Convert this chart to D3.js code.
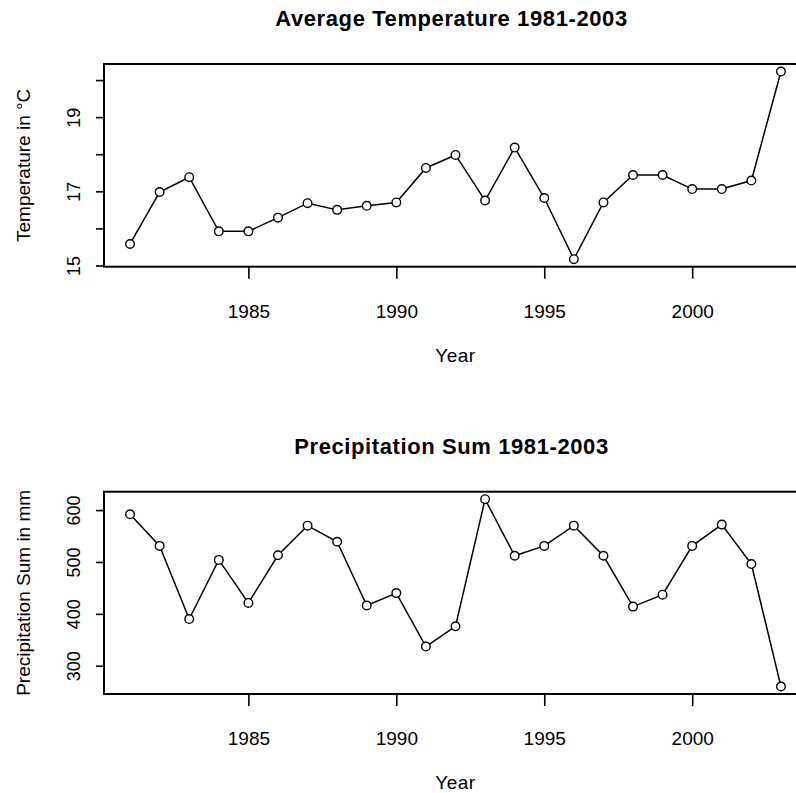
<!DOCTYPE html>
<html>
<head>
<meta charset="utf-8">
<script src="https://cdn.jsdelivr.net/npm/d3@7"></script>
<style>
body { margin: 0; background: #fff; }
text { font-family: "Liberation Sans", Arial, sans-serif; fill: #000; }
</style>
</head>
<body>
<svg width="796" height="793"></svg>
<script>
var years = [1981, 1982, 1983, 1984, 1985, 1986, 1987, 1988, 1989, 1990, 1991, 1992,
             1993, 1994, 1995, 1996, 1997, 1998, 1999, 2000, 2001, 2002, 2003];
var temperature = [15.58, 16.98, 17.38, 15.92, 15.92, 16.29, 16.68, 16.50, 16.61, 16.70, 17.63, 17.98,
                   16.75, 18.18, 16.82, 15.17, 16.70, 17.44, 17.44, 17.06, 17.06, 17.29, 20.23];
var precipitation = [592, 531, 390, 504, 421, 513, 570, 539, 416, 440, 337, 376,
                     621, 512, 531, 570, 512, 414, 437, 531, 572, 496, 260];

var yearTicks = [1985, 1990, 1995, 2000];
var tempTicks = [15, 16, 17, 18, 19, 20];
var tempTickLabels = ["15", "", "17", "", "19", ""];
var precipTicks = [300, 400, 500, 600];
var precipTickLabels = ["300", "400", "500", "600"];

var svg = d3.select("svg");
var left = 104, right = 807;

// R style 4% padding around the data range
function padded(vals) {
    var lo = d3.min(vals), hi = d3.max(vals), p = (hi - lo) * 0.04;
    return [lo - p, hi + p];
}

function drawPanel(top, bottom, values, ticks, tickLabels, title, ylabel) {
    var x = d3.scaleLinear().domain(padded(years)).range([left, right]);
    var y = d3.scaleLinear().domain(padded(values)).range([bottom, top]);

    // x axis
    var gx = svg.append("g")
        .attr("transform", `translate(0,${bottom})`)
        .call(d3.axisBottom(x).tickValues(yearTicks).tickSize(12).tickFormat(d3.format("d")));
    gx.select(".domain").remove();
    gx.selectAll("line").attr("stroke", "#000").attr("stroke-width", 1.6);
    gx.selectAll("text")
        .attr("y", 51).attr("dy", 0)
        .style("font-size", "19px");

    // y axis, labels turned like R's las=0
    var gy = svg.append("g")
        .attr("transform", `translate(${left},0)`)
        .call(d3.axisLeft(y).tickValues(ticks).tickSize(8).tickFormat((d, i) => tickLabels[i]));
    gy.select(".domain").remove();
    gy.selectAll("line").attr("stroke", "#000").attr("stroke-width", 1.6);
    gy.selectAll("text")
        .attr("transform", "rotate(-90)")
        .attr("x", 0).attr("y", -24).attr("dy", 0)
        .style("text-anchor", "middle")
        .style("font-size", "18px");

    // box
    svg.append("rect")
        .attr("x", left).attr("y", top)
        .attr("width", right - left).attr("height", bottom - top)
        .attr("fill", "none").attr("stroke", "#000").attr("stroke-width", 2);

    var line = d3.line().x((d, i) => x(years[i])).y(d => y(d));
    svg.append("path")
        .datum(values)
        .attr("d", line)
        .attr("fill", "none")
        .attr("stroke", "#000")
        .attr("stroke-width", 1.5);

    svg.selectAll(null)
        .data(values)
        .enter().append("circle")
        .attr("cx", (d, i) => x(years[i]))
        .attr("cy", d => y(d))
        .attr("r", 4.3)
        .attr("fill", "#fff")
        .attr("stroke", "#000")
        .attr("stroke-width", 1.4);

    svg.append("text")
        .attr("x", (left + right) / 2 - 4)
        .attr("y", top - 38)
        .attr("text-anchor", "middle")
        .style("font-size", "22px")
        .style("font-weight", "bold")
        .style("letter-spacing", "0.6px")
        .text(title);

    svg.append("text")
        .attr("x", (left + right) / 2)
        .attr("y", bottom + 95)
        .attr("text-anchor", "middle")
        .style("font-size", "19px")
        .style("letter-spacing", "0.5px")
        .text("Year");

    svg.append("text")
        .attr("transform", `translate(30,${(top + bottom) / 2}) rotate(-90)`)
        .attr("text-anchor", "middle")
        .style("font-size", "19px")
        .text(ylabel);
}

drawPanel(64, 266.7, temperature, tempTicks, tempTickLabels,
    "Average Temperature 1981-2003", "Temperature in °C");
drawPanel(491.7, 694, precipitation, precipTicks, precipTickLabels,
    "Precipitation Sum 1981-2003", "Precipitation Sum in mm");
</script>
</body>
</html>
